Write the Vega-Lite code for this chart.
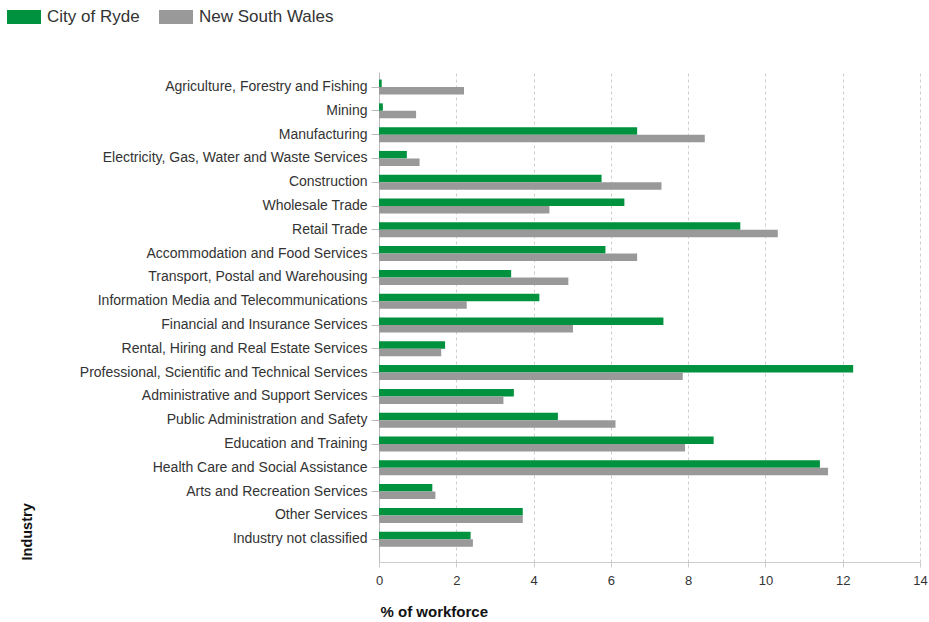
{
  "$schema": "https://vega.github.io/schema/vega-lite/v6.json",
  "autosize": {"type": "none"},
  "padding": {"left": 379, "top": 72, "right": 9, "bottom": 60},
  "width": 541,
  "height": 490,
  "background": "white",
  "config": {
    "font": "Liberation Sans",
    "view": {"stroke": null}
  },
  "data": {
    "values": [
      {"industry": "Agriculture, Forestry and Fishing", "area": "City of Ryde", "value": 0.07},
      {"industry": "Agriculture, Forestry and Fishing", "area": "New South Wales", "value": 2.2},
      {"industry": "Mining", "area": "City of Ryde", "value": 0.1},
      {"industry": "Mining", "area": "New South Wales", "value": 0.96},
      {"industry": "Manufacturing", "area": "City of Ryde", "value": 6.68},
      {"industry": "Manufacturing", "area": "New South Wales", "value": 8.43},
      {"industry": "Electricity, Gas, Water and Waste Services", "area": "City of Ryde", "value": 0.72},
      {"industry": "Electricity, Gas, Water and Waste Services", "area": "New South Wales", "value": 1.05},
      {"industry": "Construction", "area": "City of Ryde", "value": 5.76},
      {"industry": "Construction", "area": "New South Wales", "value": 7.31},
      {"industry": "Wholesale Trade", "area": "City of Ryde", "value": 6.35},
      {"industry": "Wholesale Trade", "area": "New South Wales", "value": 4.41},
      {"industry": "Retail Trade", "area": "City of Ryde", "value": 9.35},
      {"industry": "Retail Trade", "area": "New South Wales", "value": 10.32},
      {"industry": "Accommodation and Food Services", "area": "City of Ryde", "value": 5.86},
      {"industry": "Accommodation and Food Services", "area": "New South Wales", "value": 6.68},
      {"industry": "Transport, Postal and Warehousing", "area": "City of Ryde", "value": 3.42},
      {"industry": "Transport, Postal and Warehousing", "area": "New South Wales", "value": 4.9},
      {"industry": "Information Media and Telecommunications", "area": "City of Ryde", "value": 4.15},
      {"industry": "Information Media and Telecommunications", "area": "New South Wales", "value": 2.27},
      {"industry": "Financial and Insurance Services", "area": "City of Ryde", "value": 7.36},
      {"industry": "Financial and Insurance Services", "area": "New South Wales", "value": 5.02},
      {"industry": "Rental, Hiring and Real Estate Services", "area": "City of Ryde", "value": 1.71},
      {"industry": "Rental, Hiring and Real Estate Services", "area": "New South Wales", "value": 1.61},
      {"industry": "Professional, Scientific and Technical Services", "area": "City of Ryde", "value": 12.27},
      {"industry": "Professional, Scientific and Technical Services", "area": "New South Wales", "value": 7.86},
      {"industry": "Administrative and Support Services", "area": "City of Ryde", "value": 3.49},
      {"industry": "Administrative and Support Services", "area": "New South Wales", "value": 3.22},
      {"industry": "Public Administration and Safety", "area": "City of Ryde", "value": 4.63},
      {"industry": "Public Administration and Safety", "area": "New South Wales", "value": 6.12},
      {"industry": "Education and Training", "area": "City of Ryde", "value": 8.66},
      {"industry": "Education and Training", "area": "New South Wales", "value": 7.92},
      {"industry": "Health Care and Social Assistance", "area": "City of Ryde", "value": 11.41},
      {"industry": "Health Care and Social Assistance", "area": "New South Wales", "value": 11.62},
      {"industry": "Arts and Recreation Services", "area": "City of Ryde", "value": 1.38},
      {"industry": "Arts and Recreation Services", "area": "New South Wales", "value": 1.46},
      {"industry": "Other Services", "area": "City of Ryde", "value": 3.72},
      {"industry": "Other Services", "area": "New South Wales", "value": 3.72},
      {"industry": "Industry not classified", "area": "City of Ryde", "value": 2.37},
      {"industry": "Industry not classified", "area": "New South Wales", "value": 2.43}
    ]
  },
  "mark": {"type": "bar"},
  "encoding": {
    "y": {
      "field": "industry",
      "type": "nominal",
      "sort": null,
      "scale": {"paddingInner": 0.37, "paddingOuter": 0.48, "align": 0.33},
      "axis": {
        "title": "Industry",
        "titleFontSize": 14.5,
        "titleFontWeight": "bold",
        "titleColor": "#111",
        "titleAngle": -90,
        "titleAlign": "left",
        "titleBaseline": "middle",
        "titleX": -352,
        "titleY": 488,
        "labelFontSize": 14,
        "labelColor": "#333",
        "labelPadding": 4,
        "labelLimit": 400,
        "tickSize": 8,
        "tickColor": "#bbb",
        "domainColor": "#bbb",
        "grid": false
      }
    },
    "yOffset": {
      "field": "area",
      "type": "nominal",
      "sort": ["City of Ryde", "New South Wales"],
      "scale": {"paddingInner": 0, "paddingOuter": 0}
    },
    "x": {
      "field": "value",
      "type": "quantitative",
      "scale": {"domain": [0, 14], "nice": false},
      "axis": {
        "title": "% of workforce",
        "titleFontSize": 15,
        "titleFontWeight": "bold",
        "titleColor": "#111",
        "titleAnchor": "start",
        "titleAlign": "left",
        "titleBaseline": "middle",
        "titleX": 1,
        "titleY": 49,
        "values": [0, 2, 4, 6, 8, 10, 12, 14],
        "labelFontSize": 13,
        "labelColor": "#333",
        "labelPadding": 7,
        "labelFlush": false,
        "tickSize": 5,
        "tickColor": "#ccc",
        "domainColor": "#ccc",
        "grid": true,
        "gridColor": "#cfcfcf",
        "gridDash": [3, 3]
      }
    },
    "color": {
      "field": "area",
      "type": "nominal",
      "scale": {"domain": ["City of Ryde", "New South Wales"], "range": ["#00923f", "#999999"]},
      "legend": {
        "title": null,
        "orient": "none",
        "direction": "horizontal",
        "legendX": -372,
        "legendY": -72,
        "padding": 0,
        "symbolType": "M-1,-0.41L1,-0.41L1,0.41L-1,0.41Z",
        "symbolSize": 1156,
        "symbolStrokeWidth": 0,
        "symbolOpacity": 1,
        "labelFontSize": 17,
        "labelColor": "#333",
        "labelOffset": 6,
        "columnPadding": 19
      }
    }
  }
}
